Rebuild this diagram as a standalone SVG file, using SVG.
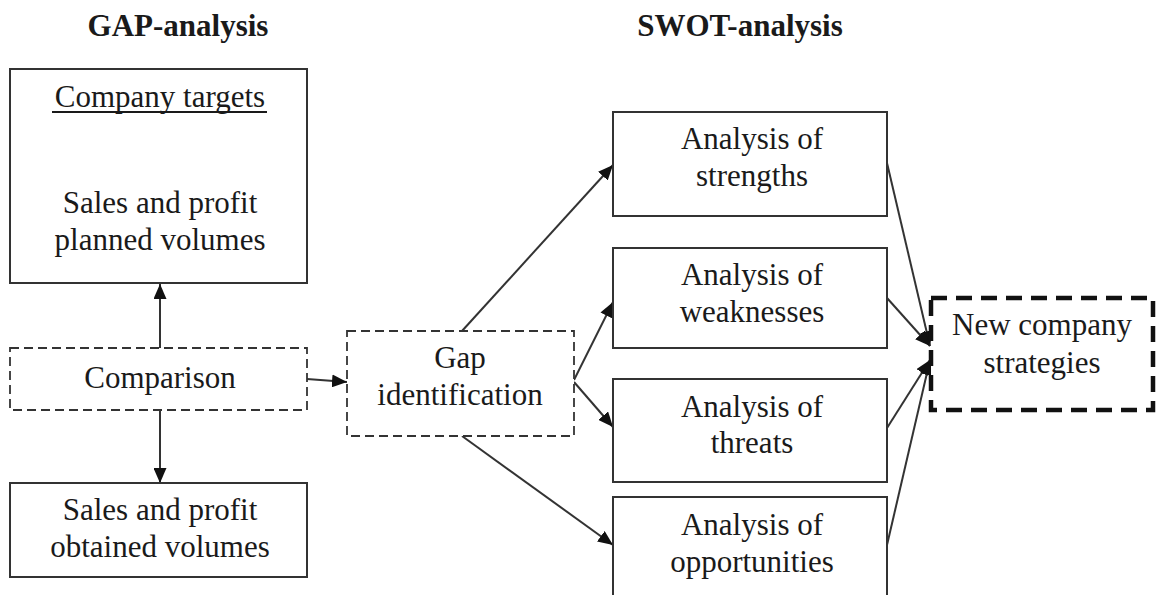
<svg xmlns="http://www.w3.org/2000/svg" width="1156" height="595" viewBox="0 0 1156 595">
<style>
text{font-family:"Liberation Serif","Times New Roman",serif;font-size:31px;fill:#1a1a1a;text-anchor:middle}
.title{font-weight:bold}
.box{fill:#fff;stroke:#333;stroke-width:2}
.dash{fill:#fff;stroke:#333;stroke-width:1.8;stroke-dasharray:9 5}
.thick{fill:#fff;stroke:#111;stroke-width:4.5;stroke-dasharray:16 9}
.con{fill:none;stroke:#333;stroke-width:2;marker-end:url(#ah)}
</style>
<defs>
<marker id="ah" markerUnits="userSpaceOnUse" markerWidth="15" markerHeight="13" refX="15" refY="6.5" orient="auto">
<path d="M0,0 L15,6.5 L0,13 Z" fill="#111"/>
</marker>
</defs>
<rect width="1156" height="595" fill="#fff"/>
<text class="title" x="178" y="36">GAP-analysis</text>
<text class="title" x="740" y="36">SWOT-analysis</text>
<g id="connectors">
<line class="con" x1="160" y1="348" x2="160" y2="284"/>
<line class="con" x1="160" y1="410" x2="160" y2="483"/>
<line class="con" x1="307" y1="379" x2="347" y2="382"/>
<line class="con" x1="462" y1="331" x2="613" y2="165"/>
<line class="con" x1="574" y1="380" x2="613" y2="302"/>
<line class="con" x1="574" y1="382" x2="613" y2="427"/>
<line class="con" x1="462" y1="436" x2="613" y2="545"/>
<line class="con" x1="887" y1="163" x2="930" y2="346"/>
<line class="con" x1="887" y1="298" x2="930" y2="346"/>
<line class="con" x1="887" y1="428" x2="930" y2="360"/>
<line class="con" x1="887" y1="545" x2="930" y2="360"/>
</g>
<g id="company-targets">
<rect class="box" x="10" y="69" width="297" height="214"/>
<text x="160" y="107">Company targets</text>
<line x1="52" y1="112" x2="267" y2="112" stroke="#1a1a1a" stroke-width="1.8"/>
<text x="160" y="213">Sales and profit</text>
<text x="160" y="250">planned volumes</text>
</g>
<g id="comparison">
<rect class="dash" x="10" y="348" width="297" height="62"/>
<text x="160" y="388">Comparison</text>
</g>
<g id="obtained">
<rect class="box" x="10" y="483" width="297" height="94"/>
<text x="160" y="520">Sales and profit</text>
<text x="160" y="557">obtained volumes</text>
</g>
<g id="gap">
<rect class="dash" x="347" y="331" width="227" height="105"/>
<text x="460" y="368">Gap</text>
<text x="460" y="405">identification</text>
</g>
<g id="strengths">
<rect class="box" x="613" y="112" width="274" height="104"/>
<text x="752" y="149">Analysis of</text>
<text x="752" y="186">strengths</text>
</g>
<g id="weaknesses">
<rect class="box" x="613" y="248" width="274" height="100"/>
<text x="752" y="285">Analysis of</text>
<text x="752" y="322">weaknesses</text>
</g>
<g id="threats">
<rect class="box" x="613" y="379" width="274" height="103"/>
<text x="752" y="417">Analysis of</text>
<text x="752" y="453">threats</text>
</g>
<g id="opportunities">
<rect class="box" x="613" y="497" width="274" height="110"/>
<text x="752" y="535">Analysis of</text>
<text x="752" y="572">opportunities</text>
</g>
<g id="strategies">
<rect class="thick" x="931" y="298" width="222" height="112"/>
<text x="1042" y="335">New company</text>
<text x="1042" y="373">strategies</text>
</g>
</svg>
